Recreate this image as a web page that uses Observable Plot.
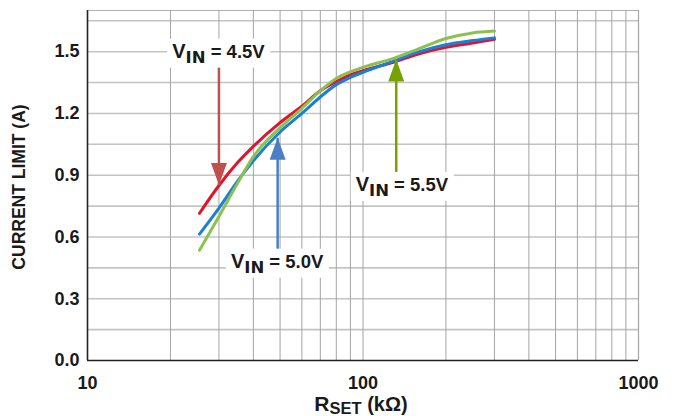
<!DOCTYPE html>
<html><head><meta charset="utf-8">
<script src="https://cdn.jsdelivr.net/npm/d3@7"></script>
<script src="https://cdn.jsdelivr.net/npm/@observablehq/plot@0.6"></script>
<style>
body{margin:0;background:#fff;} svg{overflow:visible}
#chart g[aria-label^="x-axis"], #chart g[aria-label^="y-axis"] { font-size: 18px; font-weight: bold; }
</style>
</head><body><div id="chart"></div>
<script>
// ---- data ----
const rset  = [25.5, 30, 35, 40, 50, 60, 70, 80, 90, 100, 130, 160, 200, 250, 300];
const vin45 = [0.715, 0.85, 0.96, 1.04, 1.155, 1.235, 1.31, 1.355, 1.388, 1.408, 1.45, 1.49, 1.521, 1.542, 1.56];
const vin50 = [0.614, 0.74, 0.87, 0.97, 1.11, 1.20, 1.28, 1.34, 1.375, 1.40, 1.455, 1.50, 1.534, 1.554, 1.567];
const vin55 = [0.536, 0.70, 0.86, 0.99, 1.13, 1.225, 1.31, 1.37, 1.402, 1.424, 1.469, 1.515, 1.564, 1.591, 1.60];
const seriesNames = ["4.5V", "5.0V", "5.5V"];
const lineColors  = ["#e0142c", "#1c7fd6", "#8cc152"];
const arrowColors = ["#c0504d", "#4a7fc4", "#76a100"];
const xTicks = [10, 100, 1000];
const xGrid  = [20, 30, 40, 50, 60, 70, 80, 90, 100, 200, 300, 400, 500, 600, 700, 800, 900];
const yTicks = [0, 0.3, 0.6, 0.9, 1.2, 1.5];
const yGrid  = [0.15, 0.3, 0.45, 0.6, 0.75, 0.9, 1.05, 1.2, 1.35, 1.5, 1.65];
// annotations: arrow x, arrow start y, arrow tip y, label x, label y
const annX      = [30, 49, 132];
const arrowFrom = [1.437, 0.535, 0.90];
const arrowTip  = [0.852, 1.082, 1.462];
const labelX    = [30, 49, 139];
const labelY    = [1.50, 0.48, 0.853];
const labelVals = ["4.5V", "5.0V", "5.5V"];

const lineData = [];
[vin45, vin50, vin55].forEach((vals, s) => {
  rset.forEach((x, i) => lineData.push({x, y: vals[i], s: seriesNames[s]}));
});
const arrows = annX.map((x, i) => ({x, y1: arrowFrom[i], y2: arrowTip[i], s: seriesNames[i], c: arrowColors[i]}));

const headDown = {draw(ctx) { ctx.moveTo(0, 0); ctx.lineTo(-8, -22); ctx.lineTo(8, -22); ctx.closePath(); }};
const headUp   = {draw(ctx) { ctx.moveTo(0, 0); ctx.lineTo(-8, 22); ctx.lineTo(8, 22); ctx.closePath(); }};

const chart = Plot.plot({
  width: 678, height: 416,
  marginLeft: 87, marginRight: 40, marginTop: 10, marginBottom: 56,
  style: {fontFamily: "'Liberation Sans', Arial, sans-serif", fontSize: "18px", fontWeight: "bold", color: "#1a1a1a", background: "#fff"},
  x: {type: "log", domain: [10, 1000], ticks: xTicks, tickFormat: d => String(d), tickSize: 0, tickPadding: 16, label: null},
  y: {domain: [0, 1.7], ticks: yTicks, tickFormat: d => d.toFixed(1), tickSize: 0, tickPadding: 8, label: null},
  color: {domain: seriesNames, range: lineColors},
  marks: [
    Plot.ruleY(yGrid, {stroke: "#c4c4c4", strokeWidth: 1.6}),
    Plot.ruleY([1.7], {stroke: "#b0b0b0", strokeWidth: 1.2}),
    Plot.ruleX(xGrid, {stroke: "#a4a4a4", strokeWidth: 1}),
    Plot.ruleX([1000], {stroke: "#a4a4a4", strokeWidth: 1.2}),
    Plot.ruleX([10], {stroke: "#222", strokeWidth: 1.6}),
    Plot.ruleY([0], {stroke: "#222", strokeWidth: 1.6}),
    Plot.line(lineData.filter(d => d.s === "4.5V"), {x: "x", y: "y", stroke: "s", strokeWidth: 3, curve: "monotone-x"}),
    Plot.line(lineData.filter(d => d.s === "5.0V"), {x: "x", y: "y", stroke: "s", strokeWidth: 3, curve: "monotone-x"}),
    Plot.line(lineData.filter(d => d.s === "5.5V"), {x: "x", y: "y", stroke: "s", strokeWidth: 3, curve: "monotone-x"}),
    Plot.link(arrows, {x1: "x", x2: "x", y1: "y1", y2: "y2", stroke: "c", strokeWidth: 2.5}),
    Plot.dot(arrows.filter(d => d.y2 < d.y1), {x: "x", y: "y2", fill: "c", stroke: null, symbol: headDown}),
    Plot.dot(arrows.filter(d => d.y2 > d.y1), {x: "x", y: "y2", fill: "c", stroke: null, symbol: headUp})
  ]
});
document.getElementById("chart").append(chart);

function px(name, v) {
  const s = chart.scale(name);
  if (s.apply) return s.apply(v);
  const f = (s.type === "log" ? d3.scaleLog() : d3.scaleLinear()).domain(s.domain).range(s.range);
  return f(v);
}

const svg = d3.select(chart);

// VIN labels with white boxes
labelX.forEach((lx, i) => {
  const g = svg.append("g");
  const cx = px("x", lx), cy = px("y", labelY[i]);
  const t = g.append("text").attr("x", cx).attr("y", cy + 6.5).attr("text-anchor", "middle")
    .style("white-space", "pre").attr("fill", "#1a1a1a").attr("font-weight", "bold");
  t.append("tspan").attr("font-family", "'Liberation Sans', Arial, sans-serif").attr("font-size", "20px").text("V");
  t.append("tspan").attr("font-family", "'DejaVu Sans', sans-serif").attr("font-size", "16.5px").attr("dy", 5).text("IN");
  t.append("tspan").attr("font-family", "'Liberation Sans', Arial, sans-serif").attr("font-size", "18.5px").attr("dy", -5).text(" = " + labelVals[i]);
  const bb = t.node().getBBox();
  g.insert("rect", "text").attr("x", bb.x - 5).attr("y", bb.y - 1).attr("width", bb.width + 10).attr("height", bb.height + 2).attr("fill", "#fff");
});

// y axis title
const yBottom = px("y", 0), yTopPx = px("y", 1.7);
svg.append("text").attr("transform", `translate(25,${(yBottom + yTopPx) / 2 + 2}) rotate(-90)`).attr("text-anchor", "middle")
  .attr("font-family", "'Liberation Sans', Arial, sans-serif").attr("font-size", "17.5px").attr("font-weight", "bold")
  .attr("fill", "#1a1a1a").text("CURRENT LIMIT (A)");

// x axis title with subscript
const xt = svg.append("text").attr("x", 361).attr("y", 411).attr("text-anchor", "middle").style("white-space", "pre")
  .attr("font-family", "'Liberation Sans', Arial, sans-serif").attr("font-weight", "bold").attr("fill", "#1a1a1a");
xt.append("tspan").attr("font-size", "21px").text("R");
xt.append("tspan").attr("font-size", "16.5px").attr("dy", 3).text("SET");
xt.append("tspan").attr("font-size", "20px").attr("dy", -3).text(" (kΩ)");
</script>
</body></html>
